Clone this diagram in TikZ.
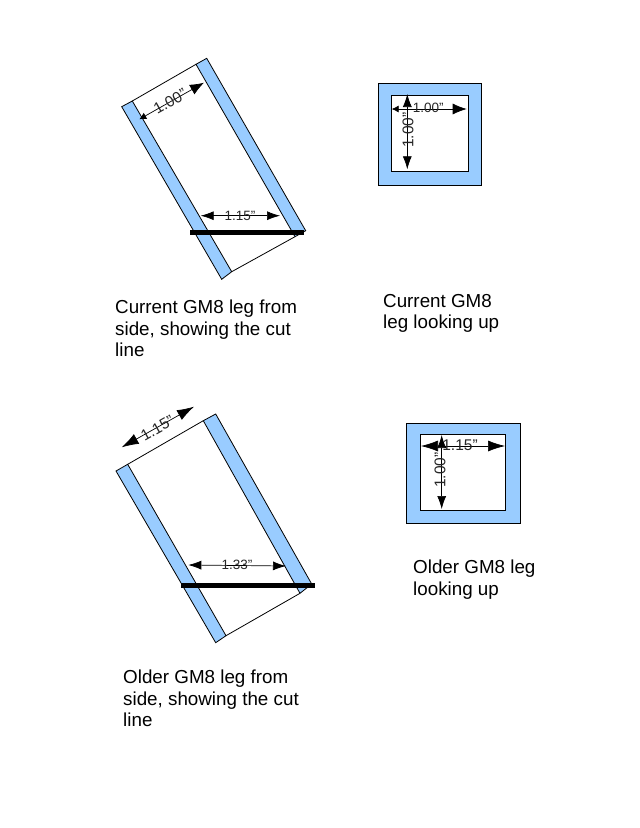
\documentclass[tikz,border=0pt]{standalone}
\usepackage{fontspec}
\setmainfont{Liberation Sans}
\usetikzlibrary{arrows.meta}
\definecolor{legblue}{HTML}{99CCFF}
\tikzset{
    band/.style={fill=legblue, draw=black, line width=0.8pt},
    wall/.style={draw=black, line width=0.8pt},
    cutline/.style={draw=black, line width=4.4pt},
    dimline/.style={draw=black, line width=0.7pt, {Latex[length=13pt,width=9pt]}-{Latex[length=13pt,width=9pt]}},
    dimbig/.style={draw=black, line width=0.7pt, {Latex[length=17pt,width=11pt]}-{Latex[length=17pt,width=11pt]}},
    dimthin/.style={draw=black, line width=0.7pt, {Latex[length=7pt,width=7pt]}-{Latex[length=14pt,width=11pt]}},
    dimtext/.style={font=\fontsize{13.5pt}{13.5pt}\selectfont, text=black!85},
    dimwide/.style={font=\fontsize{15.5pt}{15.5pt}\selectfont, text=black!85},
    caption/.style={font=\fontsize{18.8pt}{21.5pt}\selectfont, align=left, anchor=north west}
}
\begin{document}
\begin{tikzpicture}
            [every node/.style={inner sep=0pt}]
                \useasboundingbox (0pt, 0pt) rectangle (640pt, -828pt);
                % current leg, side view
                \draw [wall] (132.3pt, -101pt) -- (196pt, -64.3pt);
                \draw [wall] (231.7pt, -271.7pt) -- (295pt, -236.7pt);
                \draw [band] (121.7pt, -106.7pt) -- (132.3pt, -101pt) -- (231.7pt, -271.7pt) -- (221.7pt, -279.3pt) -- cycle;
                \draw [band] (196pt, -64.3pt) -- (206.7pt, -58.3pt) -- (305.7pt, -230.7pt) -- (295pt, -236.7pt) -- cycle;
                \coordinate (cutA1) at (190pt, -232.3pt);
                \coordinate (cutA2) at (304pt, -232.3pt);
                \draw [cutline] (cutA1) to (cutA2);
                \coordinate (wideA1) at (139.3pt, -119.3pt);
                \coordinate (wideA2) at (204pt, -82.7pt);
                \draw [dimthin] (wideA1) to (wideA2);
                \node (wideAtext) [dimwide, rotate=29.5] at (170pt, -101.5pt) {1.00"};
                \coordinate (acrossA1) at (200.7pt, -215.7pt);
                \coordinate (acrossA2) at (280pt, -215.7pt);
                \draw [dimline] (acrossA1) to (acrossA2);
                \node (acrossAtext) [dimtext] at (240pt, -215.5pt) {1.15"};
                % current leg, looking up
                \draw [band] (378.3pt, -83.3pt) rectangle (481pt, -185pt);
                \draw [wall, fill=white] (391pt, -95pt) rectangle (468.3pt, -171.7pt);
                \coordinate (endA1) at (391.7pt, -109pt);
                \coordinate (endA2) at (466.7pt, -109pt);
                \coordinate (endA3) at (407.3pt, -94pt);
                \coordinate (endA4) at (407.3pt, -169.3pt);
                \draw [dimthin] (endA1) to (endA2);
                \draw [dimline] (endA3) to (endA4);
                \node (endAtext1) [dimtext] at (428.3pt, -108.3pt) {1.00"};
                \node (endAtext2) [dimwide, rotate=90] at (408pt, -130pt) {1.00"};
                \node (capA1) [caption] at (115pt, -300pt) {Current GM8 leg from\\side, showing the cut\\line};
                \node (capA2) [caption] at (383pt, -294pt) {Current GM8\\leg looking up};
                % older leg, side view
                \draw [wall] (127.7pt, -464.3pt) -- (203.3pt, -420.7pt);
                \draw [wall] (226pt, -635.7pt) -- (300pt, -593.3pt);
                \draw [band] (116pt, -471pt) -- (127.7pt, -464.3pt) -- (226pt, -635.7pt) -- (215.7pt, -642.7pt) -- cycle;
                \draw [band] (203.3pt, -420.7pt) -- (215.7pt, -414pt) -- (311.7pt, -584pt) -- (300pt, -593.3pt) -- cycle;
                \coordinate (cutB1) at (181pt, -585.3pt);
                \coordinate (cutB2) at (315pt, -585.3pt);
                \draw [cutline] (cutB1) to (cutB2);
                \coordinate (wideB1) at (121.7pt, -447.3pt);
                \coordinate (wideB2) at (194pt, -406.7pt);
                \draw [dimbig] (wideB1) to (wideB2);
                \node (wideBtext) [dimwide, rotate=29.5] at (157.3pt, -428.3pt) {1.15"};
                \coordinate (acrossB1) at (188.3pt, -565pt);
                \coordinate (acrossB2) at (286pt, -566pt);
                \draw [dimline] (acrossB1) to (acrossB2);
                \node (acrossBtext) [dimtext] at (237pt, -565pt) {1.33"};
                % older leg, looking up
                \draw [band] (406.7pt, -423.3pt) rectangle (520pt, -523.3pt);
                \draw [wall, fill=white] (420pt, -434.3pt) rectangle (505.7pt, -510pt);
                \coordinate (endB1) at (421pt, -446pt);
                \coordinate (endB2) at (505pt, -446pt);
                \coordinate (endB3) at (441.7pt, -435pt);
                \coordinate (endB4) at (441.7pt, -509pt);
                \draw [dimbig] (endB1) to (endB2);
                \draw [dimline] (endB3) to (endB4);
                \node (endBtext1) [dimwide] at (460pt, -445pt) {1.15"};
                \node (endBtext2) [dimwide, rotate=90] at (440pt, -470pt) {1.00"};
                \node (capB1) [caption] at (123pt, -670pt) {Older GM8 leg from\\side, showing the cut\\line};
                \node (capB2) [caption] at (413pt, -560pt) {Older GM8 leg\\looking up};
            \end{tikzpicture}
\end{document}
